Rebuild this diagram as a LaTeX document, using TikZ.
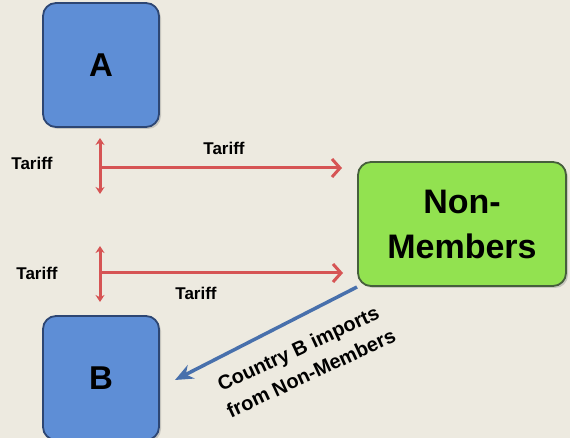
\documentclass[tikz,border=0pt]{standalone}
\usepackage{fontspec}
\setmainfont{Liberation Sans}
\usetikzlibrary{arrows.meta,shadows}
\definecolor{bg}{RGB}{237,234,224}
\definecolor{boxblue}{RGB}{94,142,214}
\definecolor{boxblueline}{RGB}{45,70,115}
\definecolor{boxgreen}{RGB}{146,226,80}
\definecolor{boxgreenline}{RGB}{70,95,60}
\definecolor{tred}{RGB}{214,84,84}
\definecolor{ablue}{RGB}{72,112,172}
\begin{document}
\begin{tikzpicture}[x=1pt,y=-1pt,
  country/.style={draw=boxblueline,line width=1.8pt,fill=boxblue,rounded corners=13pt,
     minimum width=116pt,minimum height=124pt,font=\bfseries\fontsize{33}{33}\selectfont,
     drop shadow={shadow xshift=2pt,shadow yshift=-2pt,opacity=0.35}},
  nonmem/.style={draw=boxgreenline,line width=1.8pt,fill=boxgreen,rounded corners=13pt,
     minimum width=208pt,minimum height=124pt,align=center,
     font=\bfseries\fontsize{34}{45}\selectfont,
     drop shadow={shadow xshift=2pt,shadow yshift=-2pt,opacity=0.35}},
  tarr/.style={draw=tred,line width=3pt,-{Straight Barb[length=8pt,width=18pt]}},
  tvert/.style={draw=tred,line width=3pt,{Stealth[length=7pt,width=9pt]}-{Stealth[length=7pt,width=9pt]}},
  lbl/.style={font=\bfseries\fontsize{17}{19}\selectfont},
  implbl/.style={rotate=25,font=\bfseries\fontsize{20}{24}\selectfont},
  barr/.style={draw=ablue,line width=3.5pt,-{Stealth[length=18pt,width=15pt]}}]
\fill[bg] (0,0) rectangle (570,438);
\useasboundingbox (0,0) rectangle (570,438);
\node[country] (A) at (101,65) {A};
\node[country] (B) at (101,378) {B};
\node[nonmem] (N) at (462,224) {Non-\\Members};
% upper tariff arrows
\coordinate (v1t) at (100,138);
\coordinate (v1b) at (100,194);
\coordinate (h1s) at (100,168);
\coordinate (h1e) at (342,168);
\draw[tvert] (v1t) -- (v1b);
\draw[tarr] (h1s) -- (h1e);
% lower tariff arrows
\coordinate (v2t) at (100,246);
\coordinate (v2b) at (100,302);
\coordinate (h2s) at (100,273);
\coordinate (h2e) at (343,273);
\draw[tvert] (v2t) -- (v2b);
\draw[tarr] (h2s) -- (h2e);
% labels
\node[lbl] (t1) at (32,163) {Tariff};
\node[lbl] (t2) at (224,148) {Tariff};
\node[lbl] (t3) at (37,273) {Tariff};
\node[lbl] (t4) at (196,293) {Tariff};
% blue import arrow
\coordinate (bs) at (357,287);
\coordinate (be) at (175,380);
\draw[barr] (bs) -- (be);
\node[implbl] (imp1) at (299,350) {Country B imports};
\node[implbl] (imp2) at (311,373) {from Non-Members};
\end{tikzpicture}
\end{document}
